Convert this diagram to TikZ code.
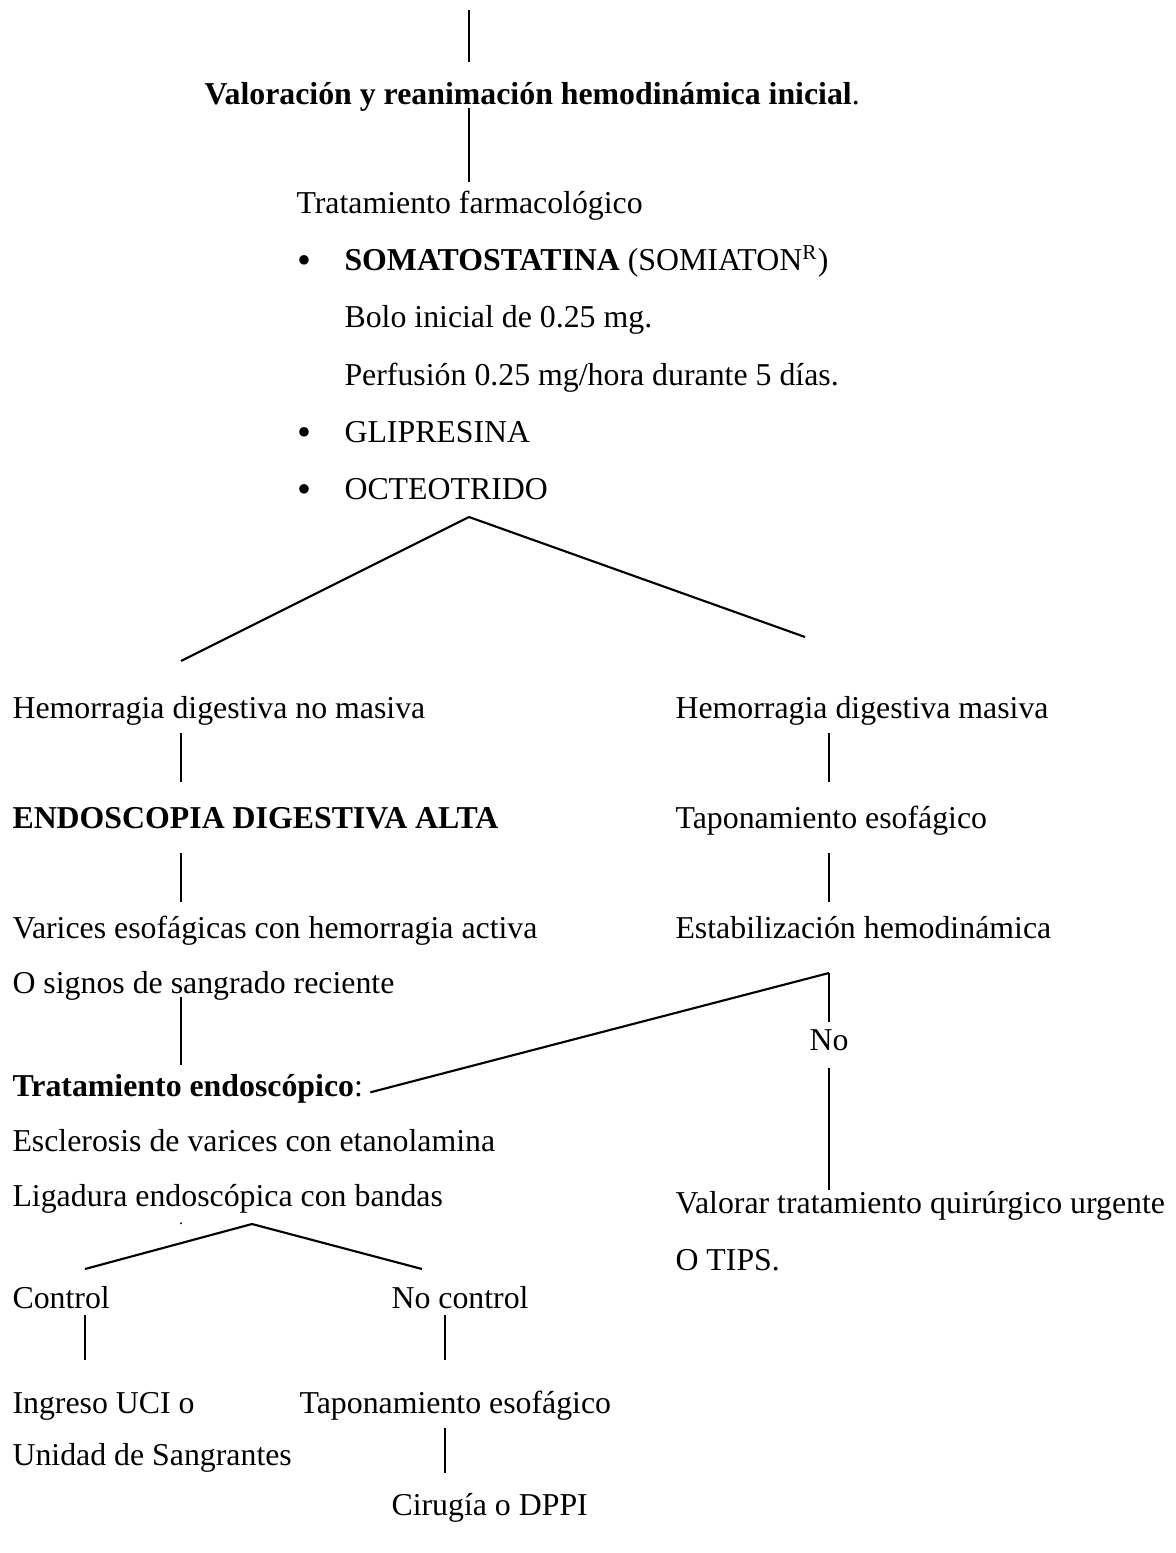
\documentclass[tikz,border=0pt]{standalone}
\usepackage{fontspec}
\setmainfont{Liberation Serif}
\usetikzlibrary{positioning}
\tikzset{
  txt/.style={anchor=base west, inner sep=0pt, font=\fontsize{12}{14}\selectfont},
  boldtxt/.style={txt, font=\fontsize{12}{14}\selectfont\bfseries},
  bulletnode/.style={anchor=base, inner sep=0pt, font=\fontsize{15}{15}\selectfont},
  link/.style={line width=0.8pt, black}
}

\begin{document}
\begin{tikzpicture}[x=0.377pt, y=-0.377pt]
  \useasboundingbox (0,0) rectangle (1175,1553);

  % texto
  \node[boldtxt] (valor) at (204,105) {Valoración y reanimación hemodinámica inicial\textmd{.}};
  \node[txt] (farma) at (296,214) {Tratamiento farmacológico};
  \node[bulletnode] (bu1) at (304,274) {\textbullet};
  \node[txt] (somat) at (344,271) {\textbf{SOMATOSTATINA} (SOMIATON\textsuperscript{R})};
  \node[txt] (bolo) at (344,328) {Bolo inicial de 0.25 mg.};
  \node[txt] (perf) at (344,385) {Perfusión 0.25 mg/hora durante 5 días.};
  \node[bulletnode] (bu2) at (304,445) {\textbullet};
  \node[txt] (glip) at (344,442) {GLIPRESINA};
  \node[bulletnode] (bu3) at (304,502) {\textbullet};
  \node[txt] (octeo) at (344,499) {OCTEOTRIDO};

  \node[txt] (nomas) at (12,718) {Hemorragia digestiva no masiva};
  \node[txt] (masiva) at (675,718) {Hemorragia digestiva masiva};
  \node[boldtxt] (endo) at (12,828) {ENDOSCOPIA DIGESTIVA ALTA};
  \node[txt] (tapon) at (675,828) {Taponamiento esofágico};
  \node[txt] (varic) at (12,938) {Varices esofágicas con hemorragia activa};
  \node[txt] (estab) at (675,938) {Estabilización hemodinámica};
  \node[txt] (signos) at (12,993) {O signos de sangrado reciente};
  \node[txt, anchor=base] (no) at (829,1050) {No};
  \node[txt] (trend) at (12,1096) {\textbf{Tratamiento endoscópico}:};
  \node[txt] (escl) at (12,1151) {Esclerosis de varices con etanolamina};
  \node[txt] (liga) at (12,1206) {Ligadura endoscópica con bandas};
  \node[txt] (quir) at (675,1213) {Valorar tratamiento quirúrgico urgente};
  \node[txt] (tips) at (675,1270) {O TIPS.};
  \node[txt, anchor=base, font=\fontsize{6}{7}\selectfont] (punto) at (181,1224) {.};
  \node[txt] (ctrl) at (12,1308) {Control};
  \node[txt] (noctrl) at (391,1308) {No control};
  \node[txt] (ingreso) at (12,1413) {Ingreso UCI o};
  \node[txt] (tapon2) at (299,1413) {Taponamiento esofágico};
  \node[txt] (unidad) at (12,1465) {Unidad de Sangrantes};
  \node[txt] (cirug) at (391,1515) {Cirugía o DPPI};

  % extremos de las lineas
  \coordinate (a0) at (469,10);    \coordinate (a1) at (469,62);
  \coordinate (b0) at (469,108);   \coordinate (b1) at (469,182);
  \coordinate (vtop) at (469,517);
  \coordinate (vizq) at (181,661); \coordinate (vder) at (805,637);
  \coordinate (c0) at (181,733);   \coordinate (c1) at (181,782);
  \coordinate (d0) at (829,733);   \coordinate (d1) at (829,782);
  \coordinate (e0) at (181,853);   \coordinate (e1) at (181,902);
  \coordinate (f0) at (829,853);   \coordinate (f1) at (829,902);
  \coordinate (g0) at (181,997);   \coordinate (g1) at (181,1065);
  \coordinate (epico) at (829,973);
  \coordinate (h1) at (829,1022);
  \coordinate (i0) at (829,1068);  \coordinate (i1) at (829,1190);
  \coordinate (lpico) at (252,1224);
  \coordinate (lizq) at (85,1269); \coordinate (lder) at (422,1269);
  \coordinate (j0) at (85,1315);   \coordinate (j1) at (85,1360);
  \coordinate (k0) at (445,1315);  \coordinate (k1) at (445,1360);
  \coordinate (m0) at (445,1428);  \coordinate (m1) at (445,1473);

  \foreach \from/\to in {a0/a1, b0/b1, vtop/vizq, vtop/vder, c0/c1, d0/d1,
      e0/e1, f0/f1, g0/g1, epico/h1, i0/i1,
      lpico/lizq, lpico/lder, j0/j1, k0/k1, m0/m1}
    \draw[link] (\from) -- (\to);
  \draw[link] (epico) -- ([xshift=2.6pt, yshift=-1.5pt]trend.east);
\end{tikzpicture}
\end{document}
